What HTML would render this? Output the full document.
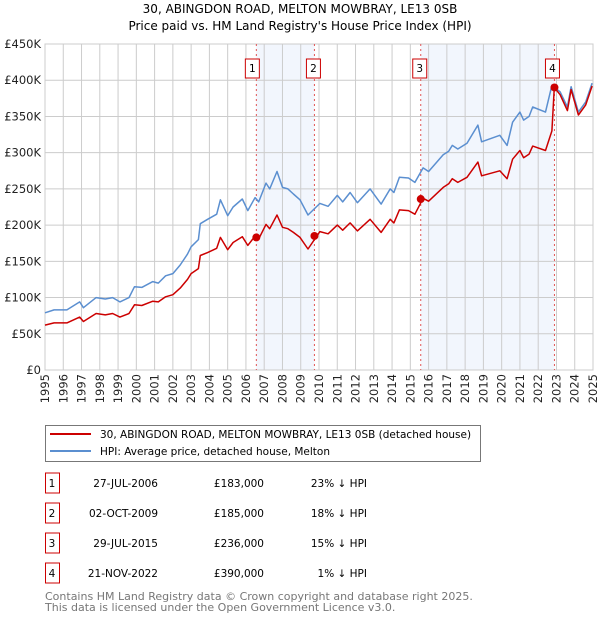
<!DOCTYPE html>
<html><head><meta charset="utf-8">
<style>
body{margin:0;background:#fff;width:600px;height:620px;overflow:hidden;font-family:"DejaVu Sans","Liberation Sans",sans-serif;}
svg text{font-family:"DejaVu Sans","Liberation Sans",sans-serif;}
</style></head>
<body>
<svg id="chart" width="600" height="620" viewBox="0 0 600 620" xmlns="http://www.w3.org/2000/svg">
<text x="300" y="13" text-anchor="middle" font-size="12" fill="#000">30, ABINGDON ROAD, MELTON MOWBRAY, LE13 0SB</text>
<text x="300" y="30" text-anchor="middle" font-size="12" fill="#000">Price paid vs. HM Land Registry's House Price Index (HPI)</text>
<g id="plot"></g>
<g>
<rect x="45.5" y="425.5" width="435" height="36" fill="#fff" stroke="#777"/>
<line x1="50" y1="434" x2="91" y2="434" stroke="#cc0000" stroke-width="2"/>
<text x="100" y="438" font-size="10.5">30, ABINGDON ROAD, MELTON MOWBRAY, LE13 0SB (detached house)</text>
<line x1="50" y1="451" x2="91" y2="451" stroke="#5b8fd0" stroke-width="2"/>
<text x="100" y="455" font-size="10.5">HPI: Average price, detached house, Melton</text>
</g>
<g id="table" font-size="10.5"></g>
<text x="45" y="600" font-size="11" fill="#777">Contains HM Land Registry data © Crown copyright and database right 2025.</text>
<text x="45" y="611" font-size="11" fill="#777">This data is licensed under the Open Government Licence v3.0.</text>
</svg>
<script>
const hpiYears=[1995.0,1995.5,1996.2,1996.9,1997.1,1997.8,1998.3,1998.7,1999.1,1999.6,1999.9,2000.3,2000.9,2001.2,2001.6,2002.0,2002.4,2002.8,2003.0,2003.4,2003.5,2003.9,2004.4,2004.6,2005.0,2005.3,2005.8,2006.1,2006.5,2006.7,2007.1,2007.3,2007.7,2008.0,2008.3,2008.6,2008.96,2009.4,2010.05,2010.5,2011.0,2011.3,2011.7,2012.1,2012.8,2013.4,2013.9,2014.1,2014.4,2014.9,2015.25,2015.7,2016.0,2016.8,2017.1,2017.3,2017.6,2018.1,2018.7,2018.9,2019.9,2020.3,2020.6,2021.0,2021.2,2021.5,2021.7,2022.4,2022.75,2023.2,2023.6,2023.8,2024.2,2024.6,2024.95];
const hpiValues=[79,83,83,94,86,100,98,100,94,100,115,114,122,120,130,133,145,160,170,180,202,208,215,235,213,225,236,220,238,232,258,250,274,252,250,243,235,214,230,226,241,232,245,231,250,229,250,245,266,265,259,279,274,297,302,310,305,313,338,315,324,310,342,356,345,350,363,356,393,384,363,391,356,370,396];
const paidYears=[1995.0,1995.5,1996.2,1996.9,1997.1,1997.8,1998.3,1998.7,1999.1,1999.6,1999.9,2000.3,2000.9,2001.2,2001.6,2002.0,2002.4,2002.8,2003.0,2003.4,2003.5,2003.9,2004.4,2004.6,2005.0,2005.3,2005.8,2006.1,2006.5,2006.7,2007.1,2007.3,2007.7,2008.0,2008.3,2008.6,2008.96,2009.4,2010.05,2010.5,2011.0,2011.3,2011.7,2012.1,2012.8,2013.4,2013.9,2014.1,2014.4,2014.9,2015.25,2015.7,2016.0,2016.8,2017.1,2017.3,2017.6,2018.1,2018.7,2018.9,2019.9,2020.3,2020.6,2021.0,2021.2,2021.5,2021.7,2022.4,2022.75,2022.88,2023.2,2023.6,2023.8,2024.2,2024.6,2024.95];
const paidValues=[62,65,65,73,67,78,76,78,73,78,90,89,95,94,101,104,113,125,133,140,158,162,168,183,166,176,184,172,185,181,201,195,214,197,195,190,183,167,191,188,200,193,203,192,208,190,208,203,221,220,215,237,233,252,257,264,259,266,287,268,275,264,291,303,293,298,309,303,330,390,380,358,387,352,366,392];
const saleYears=[2006.57,2009.75,2015.57,2022.89];
const saleValues=[183,185,236,390];
const saleLabels=["1","2","3","4"];
const saleDates=["27-JUL-2006","02-OCT-2009","29-JUL-2015","21-NOV-2022"];
const salePrices=["£183,000","£185,000","£236,000","£390,000"];
const saleDiffs=["23% ↓ HPI","18% ↓ HPI","15% ↓ HPI","1% ↓ HPI"];
const yTicks=[0,50,100,150,200,250,300,350,400,450];
const yTickLabels=["£0","£50K","£100K","£150K","£200K","£250K","£300K","£350K","£400K","£450K"];
const xTicks=[1995,1996,1997,1998,1999,2000,2001,2002,2003,2004,2005,2006,2007,2008,2009,2010,2011,2012,2013,2014,2015,2016,2017,2018,2019,2020,2021,2022,2023,2024,2025];

const NS="http://www.w3.org/2000/svg";
const L=45,R=593,T=44,B=370;
const xs=y=>L+(y-1995)/30*(R-L);
const ys=v=>B-v/450*(B-T);
const plot=document.getElementById('plot');
function mk(tag,attrs,parent){const e=document.createElementNS(NS,tag);for(const k in attrs)e.setAttribute(k,attrs[k]);(parent||plot).appendChild(e);return e;}

for(let i=0;i<saleYears.length;i+=2){
  const x1=xs(saleYears[i]);const x2=i+1<saleYears.length?xs(saleYears[i+1]):R;
  const r=mk('rect',{x:x1,y:T,width:x2-x1,height:B-T,fill:'#eef3fc',opacity:0.75});
  
  
}
xTicks.forEach(t=>{
  const l=mk('line',{x1:xs(t),y1:T,x2:xs(t),y2:B,stroke:'#cccccc','stroke-width':1});
  
  
  const x=xs(t)+4,y=B+4;
  const tx=mk('text',{x:x,y:y,'text-anchor':'end','font-size':11.5,fill:'#222',transform:'rotate(-90 '+x+' '+y+')'});
  tx.textContent=t;
  
  
});
yTicks.forEach((t,i)=>{
  const l=mk('line',{x1:L,y1:ys(t),x2:R,y2:ys(t),stroke:'#cccccc','stroke-width':1});
  
  
  const tx=mk('text',{x:L-4,y:ys(t)+4,'text-anchor':'end','font-size':11.5,fill:'#222'});
  tx.textContent=yTickLabels[i];
  
  
});
const frame=mk('rect',{x:L,y:T,width:R-L,height:B-T,fill:'none',stroke:'#cccccc'});


saleYears.forEach((y,i)=>{
  const l=mk('line',{x1:xs(y),y1:T,x2:xs(y),y2:B,stroke:'#e05555','stroke-width':1,'stroke-dasharray':'2,3'});
  
  
  const bx=xs(y)-(i==0?4:i==3?2:1)-7;
  const r=mk('rect',{x:bx,y:59,width:14,height:19,fill:'#fff',stroke:'#cc0000'});
  
  
  const tx=mk('text',{x:bx+7,y:72,'text-anchor':'middle','font-size':10.5});
  tx.textContent=saleLabels[i];
  
  
});
function line(xa,va,color,name){
  const d=xa.map((x,i)=>(i?'L':'M')+xs(x).toFixed(1)+','+ys(va[i]).toFixed(1)).join('');
  const p=mk('path',{d:d,fill:'none',stroke:color,'stroke-width':1.5,'stroke-linejoin':'round'});
  
  
}
line(hpiYears,hpiValues,'#5b8fd0','hpi-line');
line(paidYears,paidValues,'#cc0000','price-paid-line');
saleYears.forEach((y,i)=>{
  const c=mk('circle',{cx:xs(y),cy:ys(saleValues[i]),r:4,fill:'#cc0000'});
  
  
});
const tb=document.getElementById('table');
saleLabels.forEach((s,i)=>{
  const cy=483+i*30;
  const r=mk('rect',{x:45.5,y:cy-10,width:14,height:20,fill:'#fff',stroke:'#cc0000'},tb);
  
  
  const cells=[[s,52,'middle'],[saleDates[i],158,'end'],[salePrices[i],264,'end'],[saleDiffs[i],367,'end']];
  const names=['table-row-number','table-sale-date','table-sale-price','table-hpi-diff'];
  cells.forEach((c,j)=>{
    const t=mk('text',{x:c[1],y:cy+4,'text-anchor':c[2]},tb);
    t.textContent=c[0];
    
    
  });
});
</script>
</body></html>
